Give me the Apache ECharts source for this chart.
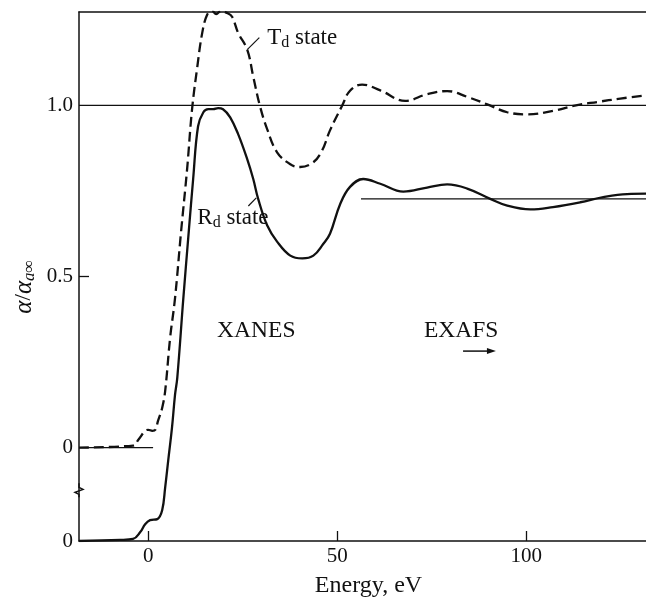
<!DOCTYPE html>
<html>
<head>
<meta charset="utf-8">
<script src="https://cdn.jsdelivr.net/npm/echarts@6/dist/echarts.min.js"></script>
<style>
    html, body { margin: 0; padding: 0; background: #fff; }
    #main { width: 646px; height: 603px; }
</style>
</head>
<body>
<div id="main"></div>
<script>
    // T_d state (dashed), on the upper scale
    var tdEnergy = [-18.3, -4.0, -2.6, -0.8, 0.0, 1.1, 1.9, 2.6, 3.7, 4.5, 5.8, 7.1, 8.7, 10.3, 11.6, 13.0, 14.3,
        15.6, 16.9, 18.0, 19.3, 20.9, 22.2, 23.8, 26.2, 27.8, 29.6, 31.5, 34.1, 37.6, 40.2, 43.7, 46.0, 48.1,
        51.3, 53.4, 56.6, 61.4, 68.0, 73.8, 79.1, 84.4, 89.7, 95.0, 100.3, 107.1, 113.5, 118.8, 124.9, 131.7];
    var tdAlpha = [0, 0.006, 0.023, 0.049, 0.052, 0.049, 0.052, 0.078, 0.116, 0.166, 0.320, 0.436, 0.631, 0.814,
        0.988, 1.113, 1.212, 1.265, 1.276, 1.267, 1.276, 1.270, 1.259, 1.212, 1.163, 1.084, 0.997, 0.930, 0.863,
        0.828, 0.820, 0.834, 0.868, 0.927, 0.999, 1.043, 1.061, 1.044, 1.013, 1.033, 1.042, 1.025, 1.003, 0.980,
        0.974, 0.984, 1.001, 1.010, 1.020, 1.029];

    // R_d state (solid), on its own scale whose zero sits below the axis break
    var rdEnergy = [-18.3, -7.4, -4.0, -2.1, -0.8, 0.5, 2.4, 3.7, 4.5, 5.3, 6.3, 7.1, 7.7, 9.3, 10.8, 11.9, 13.2,
        14.6, 15.9, 17.2, 18.5, 19.8, 21.7, 23.8, 26.2, 27.8, 29.1, 31.5, 34.1, 37.6, 40.8, 43.7, 46.3, 48.1,
        50.8, 53.4, 56.9, 61.4, 67.5, 73.8, 79.1, 84.4, 90.5, 95.0, 101.1, 107.1, 114.3, 120.4, 126.7, 131.7];
    var rdAlpha = [0, 0.003, 0.006, 0.026, 0.049, 0.061, 0.064, 0.090, 0.157, 0.235, 0.331, 0.427, 0.477, 0.709,
        0.913, 1.058, 1.212, 1.253, 1.262, 1.262, 1.265, 1.262, 1.238, 1.189, 1.116, 1.058, 1.000, 0.922, 0.875,
        0.834, 0.826, 0.834, 0.868, 0.898, 0.985, 1.035, 1.058, 1.044, 1.021, 1.033, 1.042, 1.030, 1.000, 0.980,
        0.969, 0.976, 0.990, 1.005, 1.014, 1.015];
    var rdBaseline = -0.273;

    // reference lines: [start energy, end energy, level]
    var tdZeroLine = [-18.3, 1.3, 0];
    var unityLine = [-18.3, 131.7, 1.0];
    var rdUnityLine = [56.3, 131.7, 1.0];

    var xTicks = [0, 50, 100];
    var yLabelValues = [rdBaseline, 0, 0.5, 1.0];
    var yLabelTexts = ['0', '0', '0.5', '1.0'];

    var serif = '"Liberation Serif", "DejaVu Serif", serif';
    var ink = '#111';

    function pairs(xs, ys, shift) {
        return xs.map(function(x, i) { return [x, ys[i] + (shift || 0)]; });
    }
    function flatLine(l, shift) {
        return [[l[0], l[2] + (shift || 0)], [l[1], l[2] + (shift || 0)]];
    }
    function refSeries(data) {
        return {
            type: 'line', data: data, symbol: 'none', silent: true,
            lineStyle: { color: ink, width: 1.3 }
        };
    }

    var chart = echarts.init(document.getElementById('main'));

    var option = {
        animation: false,
        grid: { left: 79, right: 0, top: 12, bottom: 59 },
        xAxis: [{
            type: 'value',
            min: -18.3,
            max: 131.7,
            name: 'Energy, eV',
            nameLocation: 'middle',
            nameGap: 33,
            nameTextStyle: { fontFamily: serif, fontSize: 24, color: ink, padding: [0, 0, 0, 12] },
            axisLine: { onZero: false, lineStyle: { color: ink, width: 1.5 } },
            axisTick: { inside: true, length: 10, customValues: xTicks, lineStyle: { color: ink, width: 1.3 } },
            axisLabel: { customValues: xTicks, fontFamily: serif, fontSize: 21, color: ink, margin: 5 },
            splitLine: { show: false }
        }, {
            type: 'value',
            position: 'top',
            min: -18.3,
            max: 131.7,
            axisLine: { onZero: false, lineStyle: { color: ink, width: 1.5 } },
            axisTick: { show: false },
            axisLabel: { show: false },
            splitLine: { show: false }
        }],
        yAxis: {
            type: 'value',
            min: rdBaseline,
            max: 1.273,
            axisLine: { show: true, onZero: false, lineStyle: { color: ink, width: 1.5 } },
            axisTick: { show: true, inside: true, length: 10, customValues: [0.5], lineStyle: { color: ink, width: 1.3 } },
            axisLabel: {
                customValues: yLabelValues,
                fontFamily: serif, fontSize: 21, color: ink, margin: 6,
                formatter: function(v) {
                    var i = yLabelValues.indexOf(v);
                    return i >= 0 ? yLabelTexts[i] : '';
                }
            },
            splitLine: { show: false }
        },
        series: [{
            name: 'Td state',
            type: 'line',
            data: pairs(tdEnergy, tdAlpha),
            symbol: 'none',
            smooth: 0.4,
            lineStyle: { color: ink, width: 2.3, type: [10, 5] }
        }, {
            name: 'Rd state',
            type: 'line',
            data: pairs(rdEnergy, rdAlpha, rdBaseline),
            symbol: 'none',
            smooth: 0.4,
            lineStyle: { color: ink, width: 2.3 }
        },
            refSeries(flatLine(tdZeroLine)),
            refSeries(flatLine(unityLine)),
            refSeries(flatLine(rdUnityLine, rdBaseline))
        ]
    };
    chart.setOption(option);

    function px(e, v) {
        return chart.convertToPixel({ seriesIndex: 0 }, [e, v]);
    }

    var textFont = { fontFamily: serif, fontSize: 23.5, fill: ink };
    var brk = px(-18.3, -0.125);
    var xanes = px(28.6, 0.34);
    var exafs = px(82.8, 0.34);
    var arrA = px(83.3, 0.282), arrB = px(92.0, 0.282);
    var tdLab = px(31.5, 1.198), rdLab = px(13.0, 0.672);
    var tdL1 = px(26.2, 1.163), tdL2 = px(29.4, 1.198);
    var rdL1 = px(26.5, 0.706), rdL2 = px(28.6, 0.730);
    var rich = {
        n: { fontFamily: serif, fontSize: 23, fill: ink },
        s: { fontFamily: serif, fontSize: 16, fill: ink, padding: [10, 0, 0, 0] },
        i: { fontFamily: serif, fontSize: 25, fontStyle: 'italic', fill: ink },
        si: { fontFamily: serif, fontSize: 17, fontStyle: 'italic', fill: ink, padding: [11, 0, 0, 0] }
    };

    chart.setOption({
        graphic: [
            // axis break
            { type: 'rect', shape: { x: brk[0] - 2, y: brk[1] - 6, width: 4, height: 12 }, style: { fill: '#fff' } },
            { type: 'polyline', shape: { points: [[brk[0], brk[1] - 7], [brk[0], brk[1] - 3], [brk[0] + 4, brk[1] - 1], [brk[0] - 4, brk[1] + 2], [brk[0], brk[1] + 4], [brk[0], brk[1] + 7]] },
                style: { stroke: ink, lineWidth: 1.5, fill: null } },
            // region labels
            { type: 'text', x: xanes[0], y: xanes[1], style: Object.assign({ text: 'XANES', align: 'center', verticalAlign: 'middle' }, textFont) },
            { type: 'text', x: exafs[0], y: exafs[1], style: Object.assign({ text: 'EXAFS', align: 'center', verticalAlign: 'middle' }, textFont) },
            { type: 'line', shape: { x1: arrA[0], y1: arrA[1], x2: arrB[0] - 6, y2: arrB[1] }, style: { stroke: ink, lineWidth: 1.5 } },
            { type: 'polygon', shape: { points: [[arrB[0], arrB[1]], [arrB[0] - 9, arrB[1] - 3], [arrB[0] - 9, arrB[1] + 3]] }, style: { fill: ink } },
            // state labels with leader lines
            { type: 'text', x: tdLab[0], y: tdLab[1], style: { text: '{n|T}{s|d}{n| state}', rich: rich, verticalAlign: 'middle' } },
            { type: 'text', x: rdLab[0], y: rdLab[1], style: { text: '{n|R}{s|d}{n| state}', rich: rich, verticalAlign: 'middle', backgroundColor: '#fff' } },
            { type: 'line', shape: { x1: tdL1[0], y1: tdL1[1], x2: tdL2[0], y2: tdL2[1] }, style: { stroke: ink, lineWidth: 1.2 } },
            { type: 'line', shape: { x1: rdL1[0], y1: rdL1[1], x2: rdL2[0], y2: rdL2[1] }, style: { stroke: ink, lineWidth: 1.2 } },
            // y axis title
            { type: 'text', x: 24, y: 287, rotation: Math.PI / 2,
                style: { text: '{i|α}{n|/}{i|α}{si|a∞}', rich: rich, align: 'center', verticalAlign: 'middle' } }
        ]
    });
</script>
</body>
</html>
